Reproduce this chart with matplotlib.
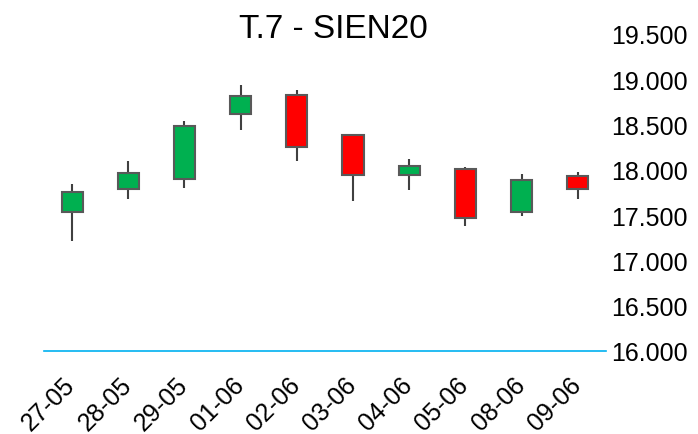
import matplotlib
matplotlib.use('Agg')
import matplotlib.pyplot as plt
import matplotlib.transforms as mtransforms
from matplotlib.ticker import FuncFormatter

plt.rcParams['font.family'] = ['Liberation Sans', 'DejaVu Sans']

dates = ['27-05', '28-05', '29-05', '01-06', '02-06', '03-06', '04-06', '05-06', '08-06', '09-06']
opens = [17537, 17788, 17902, 18616, 18829, 18387, 17943, 18005, 17538, 17928]
highs = [17843, 18094, 18535, 18939, 18881, 18390, 18116, 18034, 17957, 17979]
lows = [17217, 17678, 17796, 18443, 18100, 17659, 17774, 17376, 17490, 17678]
closes = [17752, 17965, 18483, 18811, 18248, 17939, 18045, 17465, 17891, 17791]

up_col = '#00b050'
down_col = '#ff0000'

fig = plt.figure(figsize=(6.98, 4.35), dpi=100)
ax = fig.add_axes([0.063, 0.191, 0.805, 0.729])

x = list(range(len(dates)))
bottoms = [min(o, c) for o, c in zip(opens, closes)]
heights = [abs(c - o) for o, c in zip(opens, closes)]
colors = [up_col if c >= o else down_col for o, c in zip(opens, closes)]

ax.vlines(x, lows, highs, color='#404040', linewidth=1.5, zorder=1)
ax.bar(x, heights, bottom=bottoms, width=0.375, color=colors,
       edgecolor='#595959', linewidth=1.5, zorder=2)

ax.set_xlim(-0.5, len(dates) - 0.5)
ax.set_ylim(16000, 19500)
ax.set_yticks([16000, 16500, 17000, 17500, 18000, 18500, 19000, 19500])
ax.yaxis.set_major_formatter(FuncFormatter(lambda v, p: '{:,.0f}'.format(v).replace(',', '.')))
ax.yaxis.tick_right()
ax.tick_params(axis='y', length=0, pad=4, labelsize=18)

ax.set_xticks(x)
ax.set_xticklabels(dates, rotation=45, ha='right', rotation_mode='anchor')
ax.tick_params(axis='x', length=0, pad=8, labelsize=18)
shift = mtransforms.ScaledTranslation(-0.09, -0.10, fig.dpi_scale_trans)
for lab in ax.get_xticklabels():
    lab.set_transform(lab.get_transform() + shift)

for s in ['top', 'left', 'right']:
    ax.spines[s].set_visible(False)
ax.spines['bottom'].set_color('#00b0f0')
ax.spines['bottom'].set_linewidth(1.2)

fig.text(0.477, 0.9126, 'T.7 - SIEN20', ha='center', va='baseline', fontsize=24)

fig.savefig('out.png', dpi=100)
